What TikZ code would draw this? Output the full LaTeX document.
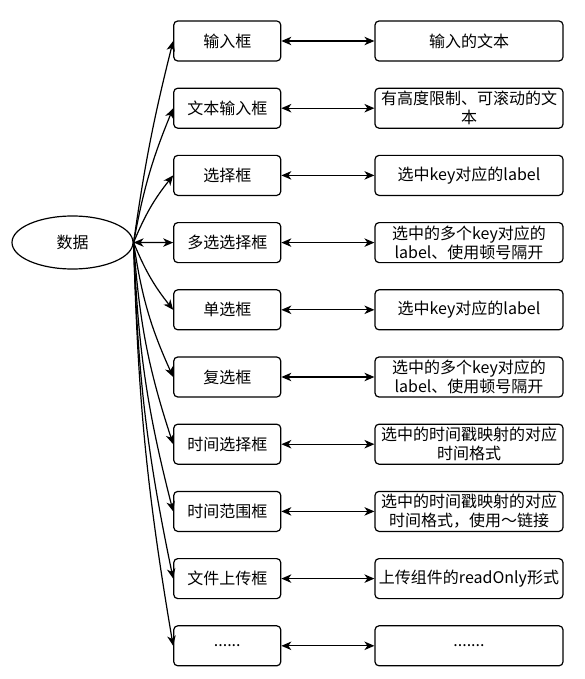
\documentclass[tikz,border=0pt]{standalone}
\usepackage{fontspec}
\setmainfont{Noto Sans CJK SC}
\usetikzlibrary{shapes.geometric,arrows.meta}
\newcommand\mysixdots{......}
\newcommand\mysevendots{.......}
\begin{document}
\begin{tikzpicture}[x=1pt,y=-1pt,
  tip/.tip={Stealth[length=10pt,width=8.5pt,inset=3pt]},
  box/.style={draw, rounded corners=4pt, line width=1.2pt, minimum width=107pt,
    minimum height=40pt, inner sep=0pt, font=\fontsize{16}{19}\selectfont, align=center},
  rbox/.style={box, minimum width=188pt},
  link/.style={line width=1.2pt, -tip},
  dlink/.style={line width=1.2pt, tip-tip}]
\useasboundingbox (0,0) rectangle (585,679);
\node[ellipse, draw, line width=1.2pt, minimum width=121pt, minimum height=53pt, inner sep=0pt,
  font=\fontsize{16}{19}\selectfont] (d) at (72.5,242.5) {数据};
\foreach \i/\lt/\rt in {0/{输入框}/{输入的文本},
  1/{文本输入框}/{有高度限制、可滚动的文\\本},
  2/{选择框}/{选中key对应的label},
  3/{多选选择框}/{选中的多个key对应的\\label、使用顿号隔开},
  4/{单选框}/{选中key对应的label},
  5/{复选框}/{选中的多个key对应的\\label、使用顿号隔开},
  6/{时间选择框}/{选中的时间戳映射的对应\\时间格式},
  7/{时间范围框}/{选中的时间戳映射的对应\\时间格式，使用～链接},
  8/{文件上传框}/{上传组件的readOnly形式},
  9/{\mysixdots}/{\mysevendots}}{
  \node[box] (l\i) at (227.25, 41+67.2*\i) {\lt};
  \node[rbox] (r\i) at (469, 41+67.2*\i) {\rt};
  \draw[dlink] (l\i.east) -- (r\i.west);
}
\draw[link] (d.east) to[bend left=3] (l0.west);
\draw[link] (d.east) to[bend left=6] (l1.west);
\draw[link] (d.east) to[bend left=8] (l2.west);
\draw[dlink] (d.east) -- (l3.west);
\draw[link] (d.east) to[bend right=8] (l4.west);
\draw[link] (d.east) to[bend right=8] (l5.west);
\draw[link] (d.east) to[bend right=7] (l6.west);
\draw[link] (d.east) to[bend right=6] (l7.west);
\draw[link] (d.east) to[bend right=5] (l8.west);
\draw[link] (d.east) to[bend right=4] (l9.west);
\end{tikzpicture}
\end{document}
